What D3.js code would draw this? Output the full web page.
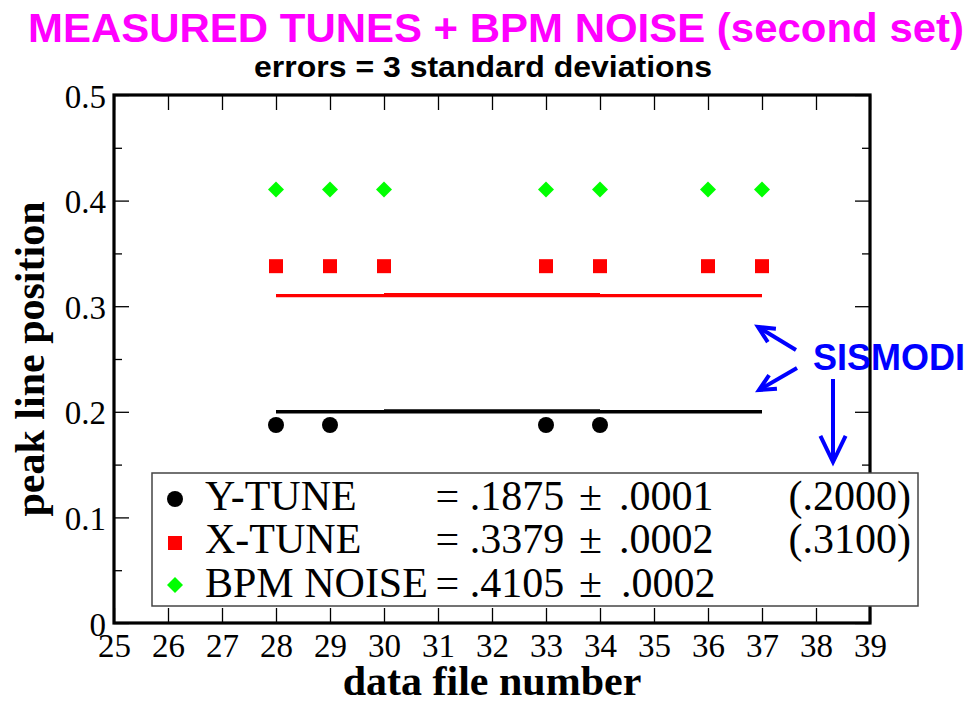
<!DOCTYPE html>
<html>
<head>
<meta charset="utf-8">
<script src="https://cdn.jsdelivr.net/npm/d3@7"></script>
<style>
  html, body { margin: 0; padding: 0; background: #fff; }
  svg { display: block; }
  .tick text { font-family: 'Liberation Serif', 'Times New Roman', serif !important; }
</style>
</head>
<body>
<svg id="chart" width="971" height="704"></svg>
<script>
// ---- data ----
const xTickValues = [25, 26, 27, 28, 29, 30, 31, 32, 33, 34, 35, 36, 37, 38, 39];
const yTickValues = [0, 0.1, 0.2, 0.3, 0.4, 0.5];
const yMinorTickValues = [0.05, 0.15, 0.25, 0.35, 0.45];

const yTuneFiles = [28, 29, 33, 34];
const yTuneValues = [0.1875, 0.1875, 0.1875, 0.1875];

const xTuneFiles = [28, 29, 30, 33, 34, 36, 37];
const xTuneValues = [0.3379, 0.3379, 0.3379, 0.3379, 0.3379, 0.3379, 0.3379];

const bpmFiles = [28, 29, 30, 33, 34, 36, 37];
const bpmValues = [0.4105, 0.4105, 0.4105, 0.4105, 0.4105, 0.4105, 0.4105];

// SISMODI reference tunes, drawn as segments between file numbers
const sismodiSegments = [[28, 30], [30, 34], [34, 37]];
const sismodiY = 0.2000;
const sismodiX = 0.3100;

const legendNames = ["Y-TUNE", "X-TUNE", "BPM NOISE"];
const legendMeans = ["= .1875", "= .3379", "= .4105"];
const legendErrors = [".0001", ".0002", ".0002"];
const legendRefs = ["(.2000)", "(.3100)", ""];

// ---- layout ----
const svg = d3.select("#chart");
const plotLeft = 114, plotRight = 870, plotTop = 95, plotBottom = 623;

const x = d3.scaleLinear().domain([25, 39]).range([plotLeft, plotRight]);
const y = d3.scaleLinear().domain([0, 0.5]).range([plotBottom, plotTop]);

const serif = "'Liberation Serif', 'Times New Roman', serif";
const sans = "'Liberation Sans', Arial, sans-serif";

// titles
svg.append("text")
  .attr("x", 28).attr("y", 42)
  .attr("textLength", 936).attr("lengthAdjust", "spacingAndGlyphs")
  .style("font-family", sans).style("font-weight", "bold")
  .style("font-size", "40px").style("fill", "#ff00ff")
  .text("MEASURED TUNES + BPM NOISE (second set)");

svg.append("text")
  .attr("x", 254).attr("y", 77)
  .attr("textLength", 458).attr("lengthAdjust", "spacingAndGlyphs")
  .style("font-family", sans).style("font-weight", "bold")
  .style("font-size", "29px").style("fill", "#000")
  .text("errors = 3 standard deviations");

// axes (ticks point inward on all four sides)
function styleAxis(g, width) {
  g.attr("font-family", serif);
  g.select(".domain").remove();
  g.selectAll(".tick line").attr("stroke", "#000").attr("stroke-width", width);
}

const gx = svg.append("g").attr("transform", `translate(0,${plotBottom})`)
  .call(d3.axisBottom(x).tickValues(xTickValues).tickSizeInner(-15).tickSizeOuter(0).tickFormat(d3.format("d")));
styleAxis(gx, 1.3);
gx.selectAll("text").attr("y", 34).attr("dy", 0)
  .attr("font-family", serif)
  .style("font-family", serif).style("font-size", "33px").style("fill", "#000");

const gxTop = svg.append("g").attr("transform", `translate(0,${plotTop})`)
  .call(d3.axisTop(x).tickValues(xTickValues).tickSizeInner(-15).tickSizeOuter(0).tickFormat(""));
styleAxis(gxTop, 1.3);

const gy = svg.append("g").attr("transform", `translate(${plotLeft},0)`)
  .call(d3.axisLeft(y).tickValues(yTickValues).tickSizeInner(-15).tickSizeOuter(0)
    .tickFormat(d => d === 0 ? "0" : d3.format(".1f")(d)));
styleAxis(gy, 1.3);
gy.selectAll("text").attr("x", -8).attr("dy", 0).attr("y", 12)
  .attr("font-family", serif)
  .style("font-family", serif).style("font-size", "33px").style("fill", "#000");

const gyMinor = svg.append("g").attr("transform", `translate(${plotLeft},0)`)
  .call(d3.axisLeft(y).tickValues(yMinorTickValues).tickSizeInner(-8).tickSizeOuter(0).tickFormat(""));
styleAxis(gyMinor, 1.3);

const gyRight = svg.append("g").attr("transform", `translate(${plotRight},0)`)
  .call(d3.axisRight(y).tickValues(yTickValues).tickSizeInner(-15).tickSizeOuter(0).tickFormat(""));
styleAxis(gyRight, 1.3);

const gyRightMinor = svg.append("g").attr("transform", `translate(${plotRight},0)`)
  .call(d3.axisRight(y).tickValues(yMinorTickValues).tickSizeInner(-8).tickSizeOuter(0).tickFormat(""));
styleAxis(gyRightMinor, 1.3);

// frame
svg.append("rect")
  .attr("x", plotLeft).attr("y", plotTop)
  .attr("width", plotRight - plotLeft).attr("height", plotBottom - plotTop)
  .attr("fill", "none").attr("stroke", "#000").attr("stroke-width", 3.2);

// axis titles
svg.append("text")
  .attr("x", (plotLeft + plotRight) / 2).attr("y", 695)
  .attr("text-anchor", "middle")
  .style("font-family", serif).style("font-weight", "bold").style("font-size", "42px")
  .text("data file number");

svg.append("text")
  .attr("transform", `translate(44,${(plotTop + plotBottom) / 2}) rotate(-90)`)
  .attr("text-anchor", "middle")
  .style("font-family", serif).style("font-weight", "bold").style("font-size", "42px")
  .text("peak line position");

// SISMODI reference lines
function refLines(value, color) {
  svg.append("g").selectAll("line")
    .data(sismodiSegments)
    .join("line")
    .attr("x1", d => x(d[0])).attr("x2", d => x(d[1]))
    .attr("y1", (d, i) => y(value) - (i === 1 ? 0.5 : 0))
    .attr("y2", (d, i) => y(value) - (i === 1 ? 0.5 : 0))
    .attr("stroke", color)
    .attr("stroke-width", (d, i) => i === 1 ? 4.3 : 3.4);
}
refLines(sismodiX, "#ff0000");
refLines(sismodiY, "#000000");

// measured points
svg.append("g").selectAll("circle")
  .data(yTuneFiles.map((f, i) => [f, yTuneValues[i]]))
  .join("circle")
  .attr("cx", d => x(d[0])).attr("cy", d => y(d[1]))
  .attr("r", 8).attr("fill", "#000");

svg.append("g").selectAll("rect")
  .data(xTuneFiles.map((f, i) => [f, xTuneValues[i]]))
  .join("rect")
  .attr("x", d => x(d[0]) - 7).attr("y", d => y(d[1]) - 7)
  .attr("width", 14).attr("height", 14).attr("fill", "#ff0000");

const diamond = s => `M0,${-s}L${s},0L0,${s}L${-s},0Z`;
svg.append("g").selectAll("path")
  .data(bpmFiles.map((f, i) => [f, bpmValues[i]]))
  .join("path")
  .attr("transform", d => `translate(${x(d[0])},${y(d[1])})`)
  .attr("d", diamond(8)).attr("fill", "#00ff00");

// SISMODI annotation with arrows
const blue = "#0000ff";
svg.append("text")
  .attr("x", 813).attr("y", 370)
  .attr("textLength", 152).attr("lengthAdjust", "spacingAndGlyphs")
  .style("font-family", sans).style("font-weight", "bold")
  .style("font-size", "37px").style("fill", blue)
  .text("SISMODI");

function arrow(x1, y1, x2, y2, head) {
  const a = Math.atan2(y2 - y1, x2 - x1);
  const spread = 0.45;
  const p1 = [x2 - head * Math.cos(a - spread), y2 - head * Math.sin(a - spread)];
  const p2 = [x2 - head * Math.cos(a + spread), y2 - head * Math.sin(a + spread)];
  svg.append("line").attr("x1", x1).attr("y1", y1).attr("x2", x2).attr("y2", y2)
    .attr("stroke", blue).attr("stroke-width", 4);
  svg.append("path").attr("d", `M${p1[0]},${p1[1]}L${x2},${y2}L${p2[0]},${p2[1]}`)
    .attr("fill", "none").attr("stroke", blue).attr("stroke-width", 4)
    .attr("stroke-linejoin", "miter");
}
arrow(796, 350, 758, 327, 18);
arrow(797, 368, 759, 390, 18);
arrow(833, 379, 833, 462, 29);

// legend
const lg = svg.append("g");
lg.append("rect")
  .attr("x", 152).attr("y", 473).attr("width", 766).attr("height", 133)
  .attr("fill", "#fff").attr("stroke", "#444").attr("stroke-width", 1.5);

const rowBase = [510, 553, 597];
const rowMark = [499, 543, 585];
const txt = (g, xx, yy, s, anchor) => g.append("text")
  .attr("x", xx).attr("y", yy).attr("text-anchor", anchor || "start")
  .style("font-family", serif).style("font-size", "42px").style("fill", "#000")
  .text(s);

legendNames.forEach((name, i) => {
  txt(lg, 205, rowBase[i], name);
  txt(lg, 435.5, rowBase[i], legendMeans[i]);
  txt(lg, 579, rowBase[i], "±");
  txt(lg, i === 2 ? 621 : 619, rowBase[i], legendErrors[i]);
  if (legendRefs[i]) txt(lg, 911, rowBase[i], legendRefs[i], "end");
});
lg.append("circle").attr("cx", 175).attr("cy", rowMark[0]).attr("r", 8).attr("fill", "#000");
lg.append("rect").attr("x", 168).attr("y", rowMark[1] - 7).attr("width", 14).attr("height", 14).attr("fill", "#ff0000");
lg.append("path").attr("transform", `translate(175,${rowMark[2]})`).attr("d", diamond(8)).attr("fill", "#00ff00");
</script>
</body>
</html>
